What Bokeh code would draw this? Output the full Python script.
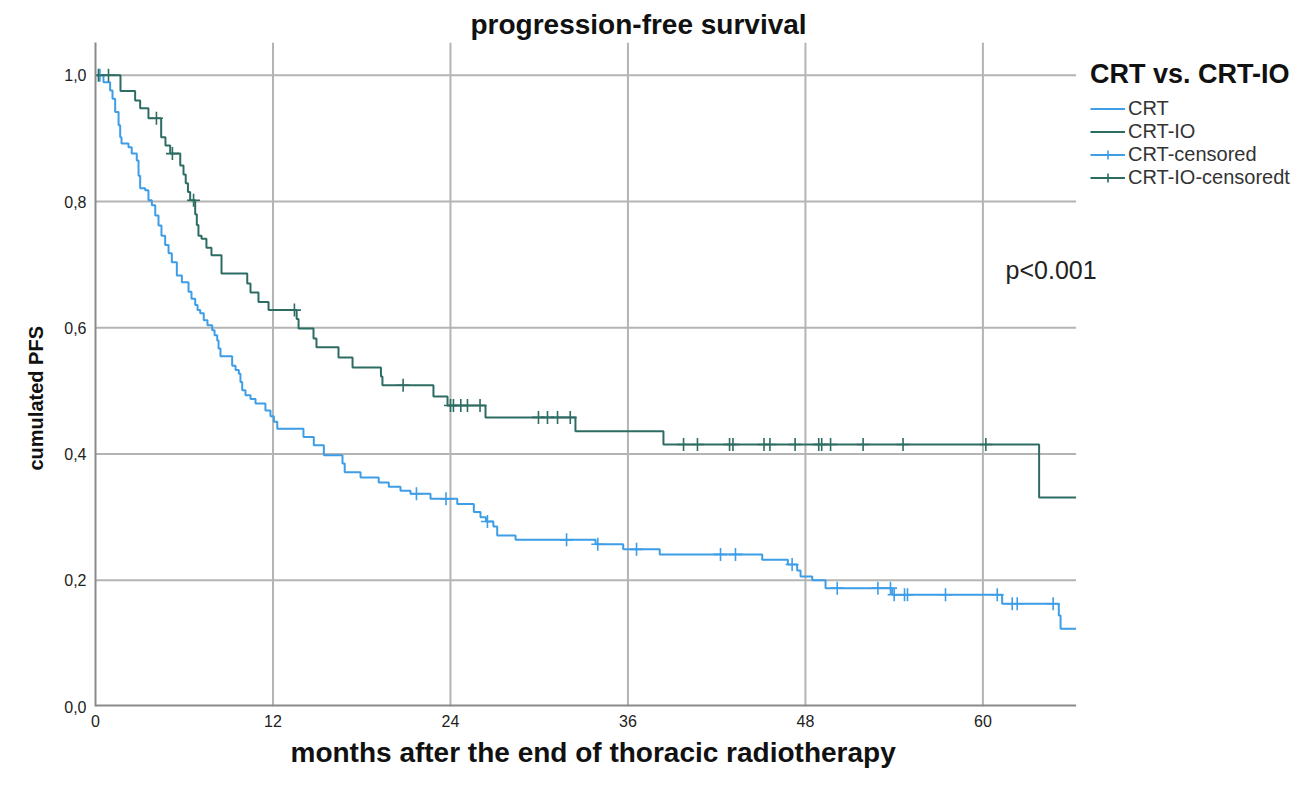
import numpy as np
from bokeh.plotting import figure
from bokeh.models import (Range1d, FixedTicker, CustomJSTickFormatter, Legend,
                          LegendItem, Label, Title)
from bokeh.embed import file_html
from bokeh.resources import INLINE

# ---------------- data ----------------
crt_times = [0.54, 0.99, 1.15, 1.33, 1.56, 1.67, 1.76, 2.23, 2.45, 2.79, 2.91, 3.02,
             3.36, 3.58, 3.81, 4.04, 4.26, 4.46, 4.71, 4.94, 5.16, 5.50, 5.84, 6.29,
             6.49, 6.74, 6.90, 7.08, 7.32, 7.57, 7.89, 8.05, 8.23, 8.32, 8.45, 9.24,
             9.47, 9.69, 9.80, 9.92, 10.14, 10.48, 10.82, 11.49, 11.83, 12.06, 12.29,
             14.06, 14.76, 15.44, 16.70, 16.85, 17.92, 19.15, 19.83, 20.62, 21.30,
             22.65, 24.46, 25.58, 26.03, 26.40, 26.90, 27.16, 28.40, 33.81, 35.68,
             38.15, 45.08, 46.81, 47.44, 47.67, 48.46, 49.36, 53.87, 61.30, 65.13, 65.25]
crt_surv = [0.989, 0.976, 0.963, 0.942, 0.921, 0.902, 0.892, 0.886, 0.876, 0.865, 0.841, 0.821,
            0.818, 0.802, 0.794, 0.778, 0.762, 0.746, 0.731, 0.718, 0.704, 0.683, 0.672, 0.657,
            0.646, 0.636, 0.628, 0.623, 0.612, 0.604, 0.596, 0.588, 0.580, 0.567, 0.555, 0.540,
            0.533, 0.527, 0.514, 0.501, 0.493, 0.487, 0.480, 0.469, 0.460, 0.451, 0.440,
            0.427, 0.414, 0.398, 0.385, 0.371, 0.363, 0.355, 0.348, 0.342, 0.337,
            0.329, 0.321, 0.308, 0.300, 0.293, 0.285, 0.271, 0.264, 0.257, 0.249,
            0.241, 0.2325, 0.225, 0.2155, 0.206, 0.200, 0.1875, 0.177, 0.1627, 0.144, 0.123]
crt_censored = [0.3, 21.7, 23.7, 26.5, 31.85, 33.96, 36.58, 42.26, 43.27, 47.1, 50.15,
                52.9, 53.75, 54.0, 54.7, 54.9, 57.47, 60.97, 61.98, 62.32, 64.75]

io_times = [1.69, 2.68, 3.02, 3.58, 4.44, 4.73, 5.05, 5.73, 5.95, 6.10, 6.25, 6.40,
            6.74, 6.85, 6.96, 7.17, 7.50, 7.84, 8.52, 10.26, 10.48, 11.02, 11.70,
            13.60, 13.73, 14.74, 14.94, 16.43, 17.38, 19.30, 19.40, 22.85, 23.80,
            26.37, 32.45, 38.40, 63.80]
io_surv = [0.975, 0.960, 0.948, 0.932, 0.902, 0.889, 0.876, 0.857, 0.843, 0.829, 0.815, 0.802,
           0.780, 0.763, 0.746, 0.741, 0.727, 0.715, 0.686, 0.670, 0.656, 0.641, 0.628,
           0.614, 0.599, 0.583, 0.569, 0.553, 0.537, 0.523, 0.509, 0.491, 0.477,
           0.458, 0.436, 0.415, 0.331]
io_censored = [0.2, 0.88, 4.12, 5.2, 6.63, 13.45, 20.8, 24.0, 24.2, 24.7, 25.15, 26.0,
               29.95, 30.56, 31.24, 32.1, 39.76, 40.7, 42.87, 43.1, 45.2, 45.6, 47.3,
               48.9, 49.1, 49.7, 51.9, 54.6, 60.2]

follow_up_end = 66.3
x_ticks = [0, 12, 24, 36, 48, 60]
y_ticks = [0.0, 0.2, 0.4, 0.6, 0.8, 1.0]
x_grid = [12, 24, 36, 48, 60]
y_grid = [0.2, 0.4, 0.6, 0.8, 1.0]

CRT_COLOR = "#3d9de6"
IO_COLOR = "#2c6c62"
GRID_COLOR = "#b4b4b4"
FONT = "Liberation Sans"

Y_TOP = 1.052
X_VIEW_END = 81.27   # canvas extends right so the legend / p-value can sit beside the curves


def step_xy(times, surv):
    x = [0.0] + list(times) + [follow_up_end]
    y = [1.0] + list(surv) + [surv[-1]]
    return x, y


def level_at(times, surv, t):
    tt = np.array([0.0] + list(times))
    ss = np.array([1.0] + list(surv))
    idx = np.searchsorted(tt, np.array(t), side="right") - 1
    return ss[idx]


p = figure(width=1297, height=774, output_backend="svg", toolbar_location=None,
           x_range=Range1d(0, X_VIEW_END), y_range=Range1d(0, Y_TOP),
           min_border_left=95, min_border_top=42, min_border_right=0,
           min_border_bottom=68)

p.title.text = "progression-free survival"
p.title.align = "left"
p.title.offset = 375
p.title.text_font = FONT
p.title.text_font_size = "28px"
p.title.text_font_style = "bold"
p.title.text_color = "#111111"
p.title.standoff = 6

p.outline_line_color = None
p.background_fill_color = "white"
p.border_fill_color = "white"

for ax in (p.xaxis[0], p.yaxis[0]):
    ax.axis_line_color = "#8a8a8a"
    ax.axis_line_width = 2
    ax.major_tick_line_color = None
    ax.minor_tick_line_color = None
    ax.major_tick_out = 0
    ax.major_tick_in = 0
    ax.major_label_text_font = FONT
    ax.major_label_text_font_size = "16px"
    ax.major_label_text_color = "#222222"

p.xaxis.axis_line_color = None
p.xaxis.ticker = FixedTicker(ticks=x_ticks)
p.yaxis.ticker = FixedTicker(ticks=y_ticks)
p.yaxis.formatter = CustomJSTickFormatter(code="return tick.toFixed(1).replace('.', ',');")
p.xaxis.major_label_standoff = 8
p.yaxis.major_label_standoff = 9

p.add_layout(Title(text="cumulated PFS", align="left", offset=236, text_font=FONT,
                   text_font_size="20px", text_font_style="bold",
                   text_color="#111111", standoff=30), "left")
p.add_layout(Title(text="months after the end of thoracic radiotherapy", align="left",
                   offset=195, text_font=FONT, text_font_size="28px",
                   text_font_style="bold", text_color="#111111", standoff=10), "below")

p.xgrid.visible = False
p.ygrid.visible = False

# grid lines limited to the data area (0 .. follow_up_end)
p.segment(x0=x_grid, y0=[0] * len(x_grid), x1=x_grid, y1=[Y_TOP] * len(x_grid),
          line_color=GRID_COLOR, line_width=2)
p.segment(x0=[0] * len(y_grid), y0=y_grid, x1=[follow_up_end] * len(y_grid), y1=y_grid,
          line_color=GRID_COLOR, line_width=2)
# bottom axis line (limited to the data area)
p.segment(x0=[0], y0=[0], x1=[follow_up_end], y1=[0], line_color="#8a8a8a", line_width=4)

cx, cy = step_xy(crt_times, crt_surv)
ix, iy = step_xy(io_times, io_surv)
r_crt = p.step(cx, cy, mode="after", line_color=CRT_COLOR, line_width=2)
r_io = p.step(ix, iy, mode="after", line_color=IO_COLOR, line_width=2)

crt_cy = level_at(crt_times, crt_surv, crt_censored)
io_cy = level_at(io_times, io_surv, io_censored)
r_crt_c = p.scatter(crt_censored, crt_cy, marker="cross", size=13,
                    line_color=CRT_COLOR, line_width=1.6)
r_io_c = p.scatter(io_censored, io_cy, marker="cross", size=13,
                   line_color=IO_COLOR, line_width=1.6)
# off-screen helpers so the censored legend entries show a line through the cross
d_crt = p.line([-10, -9], [-1, -1], line_color=CRT_COLOR, line_width=2)
d_io = p.line([-10, -9], [-1, -1], line_color=IO_COLOR, line_width=2)

legend = Legend(items=[
    LegendItem(label="CRT", renderers=[r_crt]),
    LegendItem(label="CRT-IO", renderers=[r_io]),
    LegendItem(label="CRT-censored", renderers=[d_crt, r_crt_c]),
    LegendItem(label="CRT-IO-censoredt", renderers=[d_io, r_io_c]),
], location=(995, 517))
legend.title = "CRT vs. CRT-IO"
legend.title_text_font = FONT
legend.title_text_font_size = "27px"
legend.title_text_font_style = "bold"
legend.title_text_color = "#111111"
legend.title_standoff = 7
legend.label_text_font = FONT
legend.label_text_font_size = "20px"
legend.label_text_color = "#333333"
legend.glyph_width = 35
legend.glyph_height = 23
legend.label_height = 23
legend.label_standoff = 3
legend.spacing = 0
legend.margin = 0
legend.padding = 4
legend.border_line_color = None
legend.background_fill_alpha = 0
p.add_layout(legend)

p.add_layout(Label(x=61.53, y=0.691, text="p<0.001", text_font=FONT,
                   text_font_size="25px", text_color="#222222",
                   text_baseline="middle", text_align="left"))

open("out.html", "w").write(file_html(p, INLINE))
